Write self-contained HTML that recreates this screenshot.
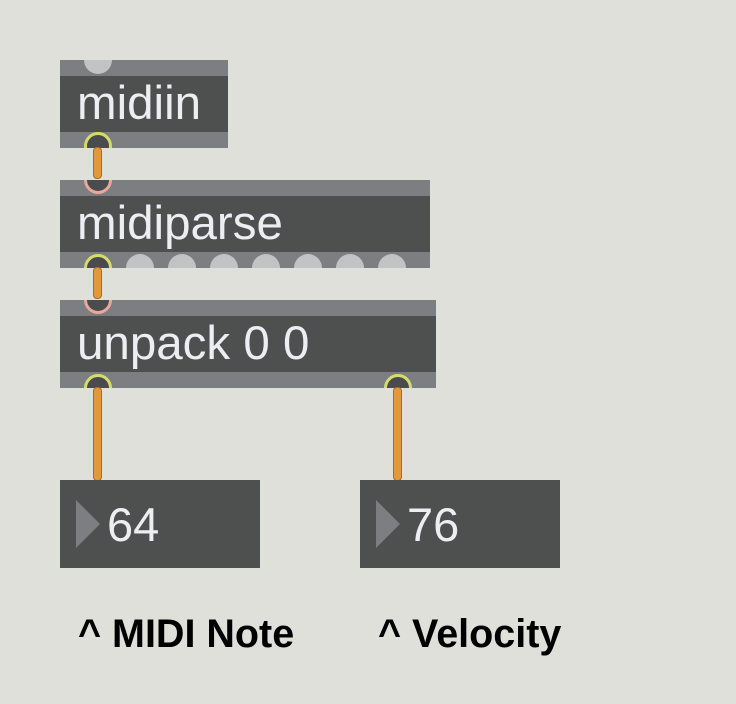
<!DOCTYPE html>
<html><head><style>
body{margin:0;width:736px;height:704px;background:#dfe0da;position:relative;overflow:hidden;font-family:"Liberation Sans",sans-serif}
.box{position:absolute;background:#4e5050;overflow:hidden}
.bar{position:absolute;left:0;right:0;height:16px;background:#7d7e82}
.t{position:absolute;left:17px;color:#eeeef2;font-size:47.5px;line-height:1;white-space:nowrap}
.c{position:absolute;width:28px;height:28px;border-radius:50%;background:#c2c3c4}
.pin{position:absolute;width:22px;height:22px;border-radius:50%;border:3px solid;background:#4a4b4e}
.cord{position:absolute;width:7px;background:#e09a3c;border:1px solid #a86e20;border-radius:4px}
.lab{position:absolute;font-weight:bold;font-size:39.5px;color:#000;line-height:1;white-space:nowrap}
</style></head><body>
<!-- midiin -->
<div class="box" style="left:60px;top:60px;width:168px;height:88px">
 <div class="bar" style="top:0"></div><div class="bar" style="bottom:0"></div>
 <div class="c" style="left:24px;top:-14px"></div>
 <div class="t" style="top:20px">midiin</div>
</div>
<!-- midiparse -->
<div class="box" style="left:60px;top:180px;width:370px;height:88px">
 <div class="bar" style="top:0"></div><div class="bar" style="bottom:0"></div>
 <div class="c" style="left:66px;top:74px"></div><div class="c" style="left:108px;top:74px"></div>
 <div class="c" style="left:150px;top:74px"></div><div class="c" style="left:192px;top:74px"></div>
 <div class="c" style="left:234px;top:74px"></div><div class="c" style="left:276px;top:74px"></div>
 <div class="c" style="left:318px;top:74px"></div>
 <div class="t" style="top:20px">midiparse</div>
</div>
<!-- unpack -->
<div class="box" style="left:60px;top:300px;width:376px;height:88px">
 <div class="bar" style="top:0"></div><div class="bar" style="bottom:0"></div>
 <div class="t" style="top:20px">unpack 0 0</div>
</div>
<!-- pins -->
<div style="position:absolute;left:84px;top:132px;width:28px;height:16px;overflow:hidden"><div class="pin" style="left:0;top:0;border-color:#d6dc6c"></div></div>
<div style="position:absolute;left:84px;top:180px;width:28px;height:14px;overflow:hidden"><div class="pin" style="left:0;top:-14px;border-color:#eaa898"></div></div>
<div style="position:absolute;left:84px;top:254px;width:28px;height:14px;overflow:hidden"><div class="pin" style="left:0;top:0;border-color:#d6dc6c"></div></div>
<div style="position:absolute;left:84px;top:300px;width:28px;height:14px;overflow:hidden"><div class="pin" style="left:0;top:-14px;border-color:#eaa898"></div></div>
<div style="position:absolute;left:84px;top:374px;width:28px;height:14px;overflow:hidden"><div class="pin" style="left:0;top:0;border-color:#d6dc6c"></div></div>
<div style="position:absolute;left:384px;top:374px;width:28px;height:14px;overflow:hidden"><div class="pin" style="left:0;top:0;border-color:#d6dc6c"></div></div>
<!-- cords -->
<div class="cord" style="left:93px;top:147px;height:30px"></div>
<div class="cord" style="left:93px;top:267px;height:30px"></div>
<div class="cord" style="left:93px;top:387px;height:92px"></div>
<div class="cord" style="left:393px;top:387px;height:92px"></div>
<!-- number boxes -->
<div class="box" style="left:60px;top:480px;width:200px;height:88px">
 <div style="position:absolute;left:16px;top:20px;width:0;height:0;border-top:24px solid transparent;border-bottom:24px solid transparent;border-left:24px solid #7d7e82"></div>
 <div class="t" style="left:47px;top:21px;font-size:47px">64</div>
</div>
<div class="box" style="left:360px;top:480px;width:200px;height:88px">
 <div style="position:absolute;left:16px;top:20px;width:0;height:0;border-top:24px solid transparent;border-bottom:24px solid transparent;border-left:24px solid #7d7e82"></div>
 <div class="t" style="left:47px;top:21px;font-size:47px">76</div>
</div>
<div class="lab" style="left:78px;top:615px">^ MIDI Note</div>
<div class="lab" style="left:378px;top:615px">^ Velocity</div>
</body></html>
